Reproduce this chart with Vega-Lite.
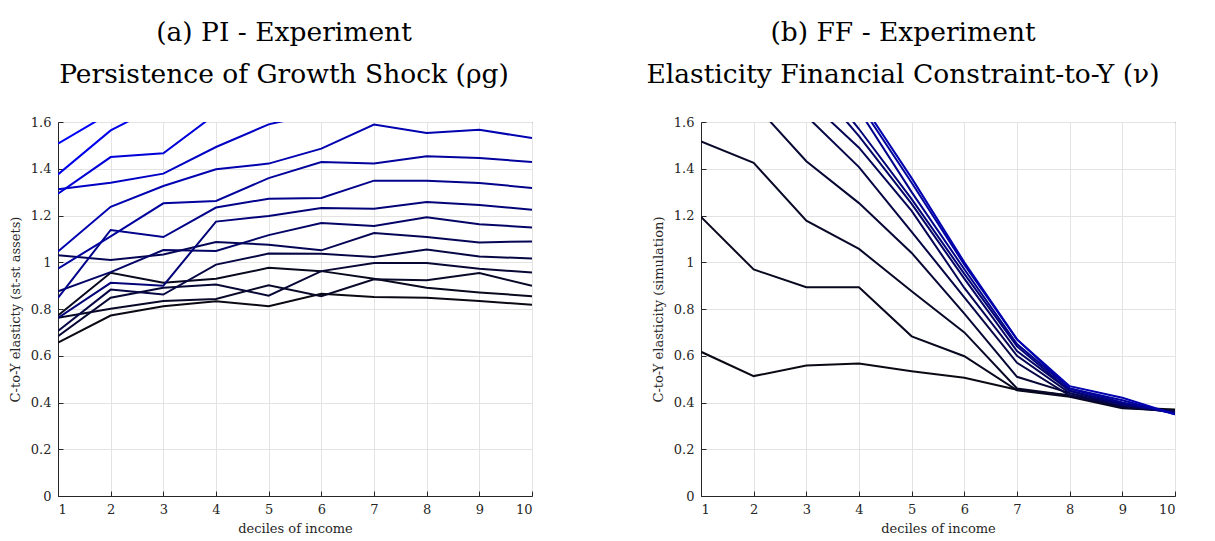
{
  "$schema": "https://vega.github.io/schema/vega-lite/v6.json",
  "background": "white",
  "padding": {"left": 8, "top": 19, "right": 5, "bottom": 5},
  "spacing": 112,
  "config": {
    "font": "DejaVu Serif",
    "view": {"stroke": "#262626", "strokeWidth": 1},
    "axis": {
      "grid": true, "gridColor": "#e3e3e3", "gridWidth": 1,
      "domainColor": "#262626", "tickColor": "#262626", "ticks": true, "tickSize": -5,
      "labelFont": "DejaVu Serif", "titleFont": "DejaVu Serif",
      "labelFontSize": 13, "titleFontSize": 13, "labelColor": "#262626", "titleColor": "#262626",
      "titleFontWeight": "normal", "labelPadding": 12
    },
    "title": {"font": "DejaVu Serif", "fontSize": 26.5, "fontWeight": "normal", "color": "#000000", "lineHeight": 42, "anchor": "middle", "frame": "group", "offset": 28}
  },
  "datasets": {
    "pi": [
      {"s":1,"x":1,"y":0.656},{"s":1,"x":2,"y":0.772},{"s":1,"x":3,"y":0.812},{"s":1,"x":4,"y":0.833},{"s":1,"x":5,"y":0.812},{"s":1,"x":6,"y":0.865},{"s":1,"x":7,"y":0.851},{"s":1,"x":8,"y":0.848},{"s":1,"x":9,"y":0.834},{"s":1,"x":10,"y":0.818},
      {"s":2,"x":1,"y":0.772},{"s":2,"x":2,"y":0.955},{"s":2,"x":3,"y":0.912},{"s":2,"x":4,"y":0.929},{"s":2,"x":5,"y":0.976},{"s":2,"x":6,"y":0.962},{"s":2,"x":7,"y":0.929},{"s":2,"x":8,"y":0.891},{"s":2,"x":9,"y":0.871},{"s":2,"x":10,"y":0.855},
      {"s":3,"x":1,"y":0.762},{"s":3,"x":2,"y":0.801},{"s":3,"x":3,"y":0.834},{"s":3,"x":4,"y":0.843},{"s":3,"x":5,"y":0.902},{"s":3,"x":6,"y":0.855},{"s":3,"x":7,"y":0.927},{"s":3,"x":8,"y":0.923},{"s":3,"x":9,"y":0.954},{"s":3,"x":10,"y":0.899},
      {"s":4,"x":1,"y":0.684},{"s":4,"x":2,"y":0.848},{"s":4,"x":3,"y":0.891},{"s":4,"x":4,"y":0.905},{"s":4,"x":5,"y":0.857},{"s":4,"x":6,"y":0.962},{"s":4,"x":7,"y":0.997},{"s":4,"x":8,"y":0.997},{"s":4,"x":9,"y":0.972},{"s":4,"x":10,"y":0.956},
      {"s":5,"x":1,"y":0.706},{"s":5,"x":2,"y":0.883},{"s":5,"x":3,"y":0.862},{"s":5,"x":4,"y":0.990},{"s":5,"x":5,"y":1.037},{"s":5,"x":6,"y":1.036},{"s":5,"x":7,"y":1.022},{"s":5,"x":8,"y":1.054},{"s":5,"x":9,"y":1.025},{"s":5,"x":10,"y":1.016},
      {"s":6,"x":1,"y":1.030},{"s":6,"x":2,"y":1.010},{"s":6,"x":3,"y":1.033},{"s":6,"x":4,"y":1.087},{"s":6,"x":5,"y":1.075},{"s":6,"x":6,"y":1.051},{"s":6,"x":7,"y":1.125},{"s":6,"x":8,"y":1.108},{"s":6,"x":9,"y":1.085},{"s":6,"x":10,"y":1.089},
      {"s":7,"x":1,"y":0.876},{"s":7,"x":2,"y":0.958},{"s":7,"x":3,"y":1.052},{"s":7,"x":4,"y":1.048},{"s":7,"x":5,"y":1.116},{"s":7,"x":6,"y":1.168},{"s":7,"x":7,"y":1.155},{"s":7,"x":8,"y":1.192},{"s":7,"x":9,"y":1.163},{"s":7,"x":10,"y":1.149},
      {"s":8,"x":1,"y":0.762},{"s":8,"x":2,"y":0.912},{"s":8,"x":3,"y":0.900},{"s":8,"x":4,"y":1.174},{"s":8,"x":5,"y":1.198},{"s":8,"x":6,"y":1.232},{"s":8,"x":7,"y":1.229},{"s":8,"x":8,"y":1.258},{"s":8,"x":9,"y":1.245},{"s":8,"x":10,"y":1.225},
      {"s":9,"x":1,"y":0.848},{"s":9,"x":2,"y":1.138},{"s":9,"x":3,"y":1.108},{"s":9,"x":4,"y":1.234},{"s":9,"x":5,"y":1.272},{"s":9,"x":6,"y":1.275},{"s":9,"x":7,"y":1.349},{"s":9,"x":8,"y":1.349},{"s":9,"x":9,"y":1.339},{"s":9,"x":10,"y":1.318},
      {"s":10,"x":1,"y":0.973},{"s":10,"x":2,"y":1.111},{"s":10,"x":3,"y":1.252},{"s":10,"x":4,"y":1.262},{"s":10,"x":5,"y":1.360},{"s":10,"x":6,"y":1.429},{"s":10,"x":7,"y":1.422},{"s":10,"x":8,"y":1.453},{"s":10,"x":9,"y":1.446},{"s":10,"x":10,"y":1.429},
      {"s":11,"x":1,"y":1.046},{"s":11,"x":2,"y":1.237},{"s":11,"x":3,"y":1.326},{"s":11,"x":4,"y":1.398},{"s":11,"x":5,"y":1.422},{"s":11,"x":6,"y":1.486},{"s":11,"x":7,"y":1.589},{"s":11,"x":8,"y":1.553},{"s":11,"x":9,"y":1.567},{"s":11,"x":10,"y":1.531},
      {"s":12,"x":1,"y":1.312},{"s":12,"x":2,"y":1.340},{"s":12,"x":3,"y":1.379},{"s":12,"x":4,"y":1.493},{"s":12,"x":5,"y":1.590},{"s":12,"x":6,"y":1.640},{"s":12,"x":7,"y":1.800},{"s":12,"x":8,"y":1.780},{"s":12,"x":9,"y":1.790},{"s":12,"x":10,"y":1.750},
      {"s":13,"x":1,"y":1.293},{"s":13,"x":2,"y":1.450},{"s":13,"x":3,"y":1.466},{"s":13,"x":4,"y":1.635},{"s":13,"x":5,"y":1.750},{"s":13,"x":6,"y":1.850},{"s":13,"x":7,"y":1.950},{"s":13,"x":8,"y":1.930},{"s":13,"x":9,"y":1.940},{"s":13,"x":10,"y":1.900},
      {"s":14,"x":1,"y":1.376},{"s":14,"x":2,"y":1.564},{"s":14,"x":3,"y":1.680},{"s":14,"x":4,"y":1.800},{"s":14,"x":5,"y":1.900},{"s":14,"x":6,"y":2.000},{"s":14,"x":7,"y":2.100},{"s":14,"x":8,"y":2.080},{"s":14,"x":9,"y":2.090},{"s":14,"x":10,"y":2.050},
      {"s":15,"x":1,"y":1.507},{"s":15,"x":2,"y":1.640},{"s":15,"x":3,"y":1.780},{"s":15,"x":4,"y":1.900},{"s":15,"x":5,"y":2.000},{"s":15,"x":6,"y":2.100},{"s":15,"x":7,"y":2.200},{"s":15,"x":8,"y":2.180},{"s":15,"x":9,"y":2.190},{"s":15,"x":10,"y":2.150}
    ],
    "ff": [
      {"s":1,"x":1,"y":0.617},{"s":1,"x":2,"y":0.513},{"s":1,"x":3,"y":0.558},{"s":1,"x":4,"y":0.567},{"s":1,"x":5,"y":0.534},{"s":1,"x":6,"y":0.506},{"s":1,"x":7,"y":0.455},{"s":1,"x":8,"y":0.430},{"s":1,"x":9,"y":0.380},{"s":1,"x":10,"y":0.370},
      {"s":2,"x":1,"y":1.194},{"s":2,"x":2,"y":0.969},{"s":2,"x":3,"y":0.893},{"s":2,"x":4,"y":0.893},{"s":2,"x":5,"y":0.683},{"s":2,"x":6,"y":0.598},{"s":2,"x":7,"y":0.452},{"s":2,"x":8,"y":0.425},{"s":2,"x":9,"y":0.375},{"s":2,"x":10,"y":0.365},
      {"s":3,"x":1,"y":1.517},{"s":3,"x":2,"y":1.425},{"s":3,"x":3,"y":1.178},{"s":3,"x":4,"y":1.057},{"s":3,"x":5,"y":0.876},{"s":3,"x":6,"y":0.700},{"s":3,"x":7,"y":0.460},{"s":3,"x":8,"y":0.430},{"s":3,"x":9,"y":0.380},{"s":3,"x":10,"y":0.365},
      {"s":4,"x":1,"y":1.750},{"s":4,"x":2,"y":1.680},{"s":4,"x":3,"y":1.432},{"s":4,"x":4,"y":1.253},{"s":4,"x":5,"y":1.040},{"s":4,"x":6,"y":0.780},{"s":4,"x":7,"y":0.510},{"s":4,"x":8,"y":0.440},{"s":4,"x":9,"y":0.380},{"s":4,"x":10,"y":0.360},
      {"s":5,"x":1,"y":1.900},{"s":5,"x":2,"y":1.800},{"s":5,"x":3,"y":1.626},{"s":5,"x":4,"y":1.407},{"s":5,"x":5,"y":1.130},{"s":5,"x":6,"y":0.850},{"s":5,"x":7,"y":0.570},{"s":5,"x":8,"y":0.430},{"s":5,"x":9,"y":0.385},{"s":5,"x":10,"y":0.360},
      {"s":6,"x":1,"y":2.000},{"s":6,"x":2,"y":1.900},{"s":6,"x":3,"y":1.700},{"s":6,"x":4,"y":1.490},{"s":6,"x":5,"y":1.220},{"s":6,"x":6,"y":0.890},{"s":6,"x":7,"y":0.600},{"s":6,"x":8,"y":0.440},{"s":6,"x":9,"y":0.390},{"s":6,"x":10,"y":0.360},
      {"s":7,"x":1,"y":2.050},{"s":7,"x":2,"y":1.950},{"s":7,"x":3,"y":1.800},{"s":7,"x":4,"y":1.540},{"s":7,"x":5,"y":1.250},{"s":7,"x":6,"y":0.930},{"s":7,"x":7,"y":0.620},{"s":7,"x":8,"y":0.450},{"s":7,"x":9,"y":0.390},{"s":7,"x":10,"y":0.355},
      {"s":8,"x":1,"y":2.100},{"s":8,"x":2,"y":2.000},{"s":8,"x":3,"y":1.850},{"s":8,"x":4,"y":1.570},{"s":8,"x":5,"y":1.270},{"s":8,"x":6,"y":0.950},{"s":8,"x":7,"y":0.640},{"s":8,"x":8,"y":0.450},{"s":8,"x":9,"y":0.395},{"s":8,"x":10,"y":0.355},
      {"s":9,"x":1,"y":2.150},{"s":9,"x":2,"y":2.050},{"s":9,"x":3,"y":1.900},{"s":9,"x":4,"y":1.650},{"s":9,"x":5,"y":1.300},{"s":9,"x":6,"y":0.970},{"s":9,"x":7,"y":0.650},{"s":9,"x":8,"y":0.460},{"s":9,"x":9,"y":0.400},{"s":9,"x":10,"y":0.355},
      {"s":10,"x":1,"y":2.200},{"s":10,"x":2,"y":2.100},{"s":10,"x":3,"y":1.950},{"s":10,"x":4,"y":1.680},{"s":10,"x":5,"y":1.340},{"s":10,"x":6,"y":0.990},{"s":10,"x":7,"y":0.670},{"s":10,"x":8,"y":0.460},{"s":10,"x":9,"y":0.410},{"s":10,"x":10,"y":0.350},
      {"s":11,"x":1,"y":2.250},{"s":11,"x":2,"y":2.150},{"s":11,"x":3,"y":2.000},{"s":11,"x":4,"y":1.700},{"s":11,"x":5,"y":1.360},{"s":11,"x":6,"y":1.000},{"s":11,"x":7,"y":0.670},{"s":11,"x":8,"y":0.470},{"s":11,"x":9,"y":0.420},{"s":11,"x":10,"y":0.350}
    ]
  },
  "hconcat": [
    {
      "width": 474, "height": 374,
      "title": {"text": ["(a) PI - Experiment", "Persistence of Growth Shock (ρg)"], "dx": -11},
      "data": {"name": "pi"},
      "mark": {"type": "line", "strokeWidth": 2, "clip": true},
      "encoding": {
        "x": {"field": "x", "type": "quantitative", "scale": {"domain": [1, 10], "nice": false}, "axis": {"values": [1,2,3,4,5,6,7,8,9,10], "title": "deciles of income", "titlePadding": 6}},
        "y": {"field": "y", "type": "quantitative", "scale": {"domain": [0, 1.6], "nice": false}, "axis": {"values": [0,0.2,0.4,0.6,0.8,1,1.2,1.4,1.6], "format": "~g", "title": "C-to-Y elasticty (st-st assets)", "titlePadding": 8}},
        "color": {"field": "s", "type": "ordinal", "legend": null, "scale": {"range": ["#0a0a14","#08081e","#080828","#070735","#060645","#050555","#040466","#030378","#02028a","#02029c","#0101b0","#0000c4","#0000d8","#0000ea","#0000fa"]}},
        "detail": {"field": "s"}
      }
    },
    {
      "width": 474, "height": 374,
      "title": {"text": ["(b) FF - Experiment", "Elasticity Financial Constraint-to-Y (ν)"], "dx": -35},
      "data": {"name": "ff"},
      "mark": {"type": "line", "strokeWidth": 2, "clip": true},
      "encoding": {
        "x": {"field": "x", "type": "quantitative", "scale": {"domain": [1, 10], "nice": false}, "axis": {"values": [1,2,3,4,5,6,7,8,9,10], "title": "deciles of income", "titlePadding": 6}},
        "y": {"field": "y", "type": "quantitative", "scale": {"domain": [0, 1.6], "nice": false}, "axis": {"values": [0,0.2,0.4,0.6,0.8,1,1.2,1.4,1.6], "format": "~g", "title": "C-to-Y elasticity (simulation)", "titlePadding": 8}},
        "color": {"field": "s", "type": "ordinal", "legend": null, "scale": {"range": ["#0a0a14","#08082a","#07073e","#060656","#05056e","#040488","#0303a2","#0202bc","#0101d4","#0000ea","#0000fa"]}},
        "detail": {"field": "s"}
      }
    }
  ]
}
